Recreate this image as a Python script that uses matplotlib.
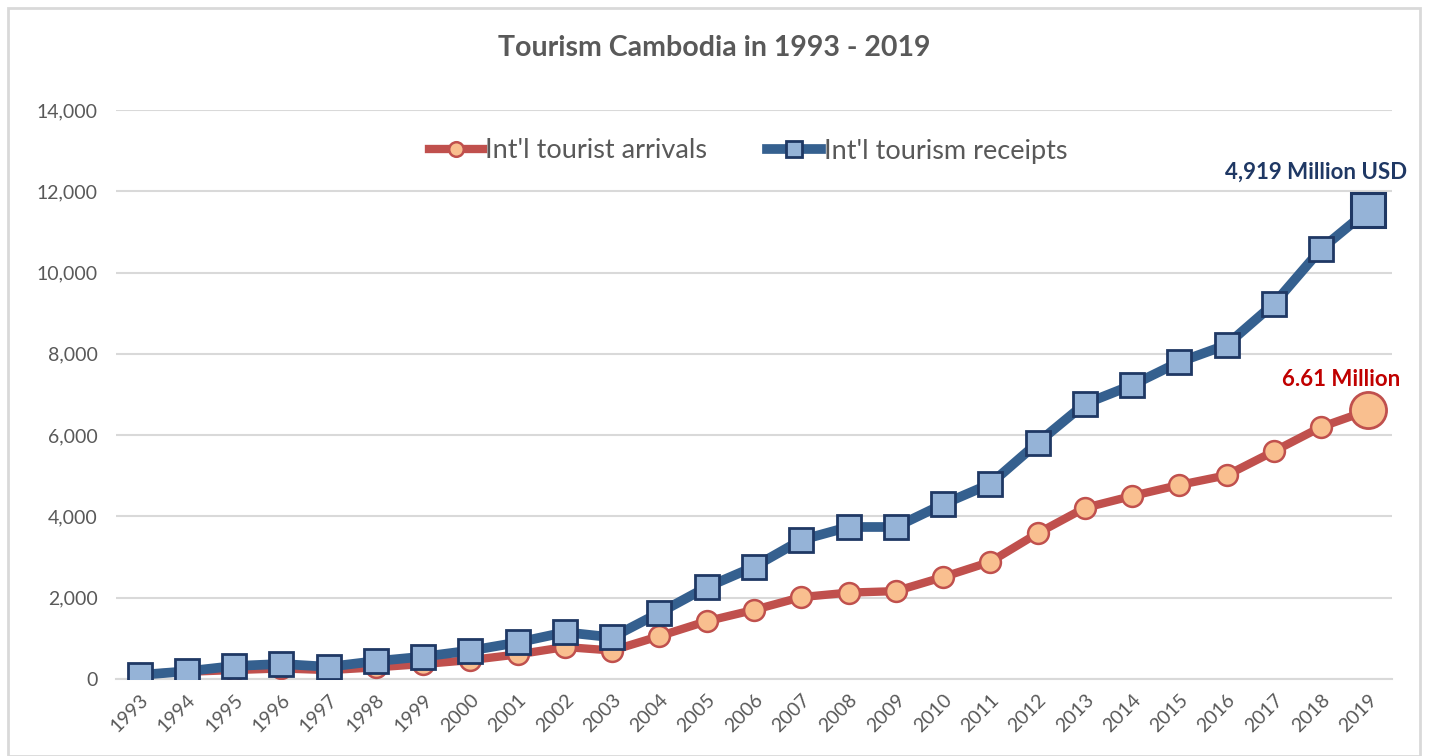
import matplotlib
matplotlib.use("Agg")
import matplotlib.pyplot as plt
from matplotlib.patches import Rectangle

plt.rcParams["font.family"] = ["Lato", "DejaVu Sans"]

YEARS = [str(y) for y in range(1993, 2020)]

# Int'l tourist arrivals (thousands)
ARRIVALS = [118, 177, 220, 260, 219, 287, 368, 466, 605, 787, 701, 1055,
            1422, 1700, 2015, 2125, 2162, 2508, 2882, 3584, 4210, 4503,
            4775, 5012, 5602, 6201, 6610]

# Int'l tourism receipts (scaled index as drawn in the source chart)
RECEIPTS = [100, 190, 320, 370, 300, 440, 550, 700, 900, 1150, 1025, 1630,
            2260, 2760, 3420, 3740, 3740, 4300, 4800, 5810, 6770, 7230,
            7800, 8220, 9230, 10580, 11540]

Y_TICKS = [0, 2000, 4000, 6000, 8000, 10000, 12000, 14000]

RED = "#C0504D"
RED_FILL = "#F9BF8F"
BLUE = "#35608F"
BLUE_FILL = "#95B3D7"
BLUE_EDGE = "#1F3864"
GREY_TXT = "#595959"

fig = plt.figure(figsize=(14.29, 7.56), dpi=100, facecolor="white")
fig.patches.append(Rectangle((8 / 1429, 0), 1412 / 1429, 1 - 8 / 756,
                             transform=fig.transFigure, fill=False,
                             edgecolor="#D9D9D9", linewidth=2))
ax = fig.add_axes([116 / 1429, 1 - 679 / 756, 1276 / 1429, 569 / 756])

x = list(range(len(YEARS)))
ax.plot(x, ARRIVALS, color=RED, linewidth=6, marker="o", markersize=15,
        markerfacecolor=RED_FILL, markeredgecolor=RED, markeredgewidth=1.8,
        label="Int'l tourist arrivals", zorder=3)
ax.plot(x, RECEIPTS, color=BLUE, linewidth=7, marker="s", markersize=17,
        markerfacecolor=BLUE_FILL, markeredgecolor=BLUE_EDGE,
        markeredgewidth=2, label="Int'l tourism receipts", zorder=4)

# enlarged last points
ax.plot(x[-1], ARRIVALS[-1], marker="o", markersize=26,
        markerfacecolor=RED_FILL, markeredgecolor=RED, markeredgewidth=2,
        zorder=5)
ax.plot(x[-1], RECEIPTS[-1], marker="s", markersize=24,
        markerfacecolor=BLUE_FILL, markeredgecolor=BLUE_EDGE,
        markeredgewidth=2.2, zorder=5)

ax.annotate("4,919 Million USD", (x[-1], RECEIPTS[-1]), xytext=(28, 20),
            textcoords="offset points", ha="right", va="bottom",
            fontsize=16, fontweight="bold", color=BLUE_EDGE)
ax.annotate("6.61 Million", (x[-1], ARRIVALS[-1]), xytext=(23, 15),
            textcoords="offset points", ha="right", va="bottom",
            fontsize=16, fontweight="bold", color="#C00000")

ax.set_xlim(-0.5, len(YEARS) - 0.5)
ax.set_ylim(0, 14000)
ax.set_yticks(Y_TICKS)
ax.set_yticklabels([f"{v:,}" for v in Y_TICKS])
ax.set_xticks(x)
ax.set_xticklabels(YEARS, rotation=45, ha="right", rotation_mode="anchor")
ax.tick_params(axis="both", length=0, labelsize=14, colors=GREY_TXT)
ax.tick_params(axis="x", pad=9)
ax.tick_params(axis="y", pad=13)
ax.grid(axis="y", color="#D9D9D9", linewidth=1.5)
ax.set_axisbelow(True)
for s in ax.spines.values():
    s.set_visible(False)
ax.spines["bottom"].set_visible(True)
ax.spines["bottom"].set_color("#D9D9D9")
ax.spines["bottom"].set_linewidth(1.5)

fig.text(0.5, 1 - 48 / 756, "Tourism Cambodia in 1993 - 2019", ha="center",
         va="center", fontsize=20.5, fontweight="bold", color=GREY_TXT)

leg = ax.legend(loc="center", bbox_to_anchor=(748 / 1429, 1 - 151 / 756),
                bbox_transform=fig.transFigure, ncol=2, frameon=False,
                fontsize=19.5, handlelength=2.0, handletextpad=0.1,
                columnspacing=2.2, markerscale=0.7)
for t in leg.get_texts():
    t.set_color(GREY_TXT)

fig.savefig("out.png", dpi=100, facecolor="white")
